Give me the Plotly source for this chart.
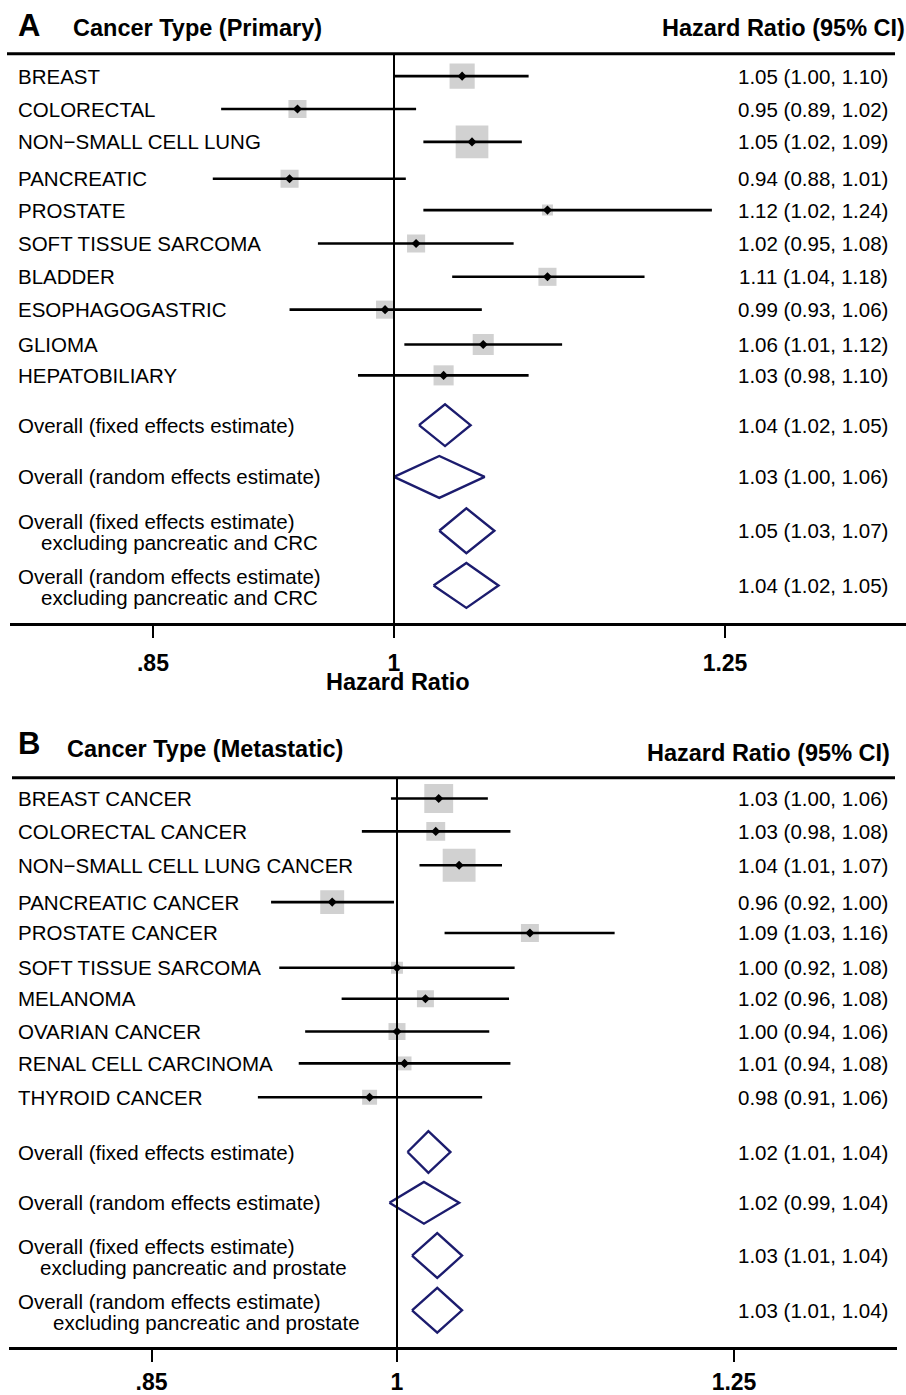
import math
import plotly.graph_objects as go

W, H = 906, 1395
FONT = "Liberation Sans, Arial, Helvetica, sans-serif"

# ---------------- Panel A data (primary) ----------------
cats_a = ["BREAST", "COLORECTAL", "NON\u2212SMALL CELL LUNG", "PANCREATIC", "PROSTATE",
          "SOFT TISSUE SARCOMA", "BLADDER", "ESOPHAGOGASTRIC", "GLIOMA", "HEPATOBILIARY"]
hr_a = [1.047, 0.937, 1.054, 0.932, 1.109, 1.015, 1.109, 0.994, 1.062, 1.034]
lo_a = [1.000, 0.890, 1.020, 0.885, 1.020, 0.950, 1.040, 0.932, 1.007, 0.976]
hi_a = [1.095, 1.015, 1.090, 1.008, 1.239, 1.084, 1.184, 1.061, 1.120, 1.095]
wt_a = [14.7, 7.6, 24.8, 7.6, 2.8, 7.6, 7.6, 7.6, 10.3, 9.4]
ci_text_a = ["1.05 (1.00, 1.10)", "0.95 (0.89, 1.02)", "1.05 (1.02, 1.09)", "0.94 (0.88, 1.01)",
             "1.12 (1.02, 1.24)", "1.02 (0.95, 1.08)", "1.11 (1.04, 1.18)", "0.99 (0.93, 1.06)",
             "1.06 (1.01, 1.12)", "1.03 (0.98, 1.10)"]
pooled_labels_a = [["Overall (fixed effects estimate)"],
                   ["Overall (random effects estimate)"],
                   ["Overall (fixed effects estimate)", "excluding pancreatic and CRC"],
                   ["Overall (random effects estimate)", "excluding pancreatic and CRC"]]
pooled_hr_a = [1.035, 1.031, 1.050, 1.050]
pooled_lo_a = [1.017, 1.000, 1.031, 1.027]
pooled_hi_a = [1.053, 1.063, 1.070, 1.073]
pooled_text_a = ["1.04 (1.02, 1.05)", "1.03 (1.00, 1.06)", "1.05 (1.03, 1.07)", "1.04 (1.02, 1.05)"]

# ---------------- Panel B data (metastatic) ----------------
cats_b = ["BREAST CANCER", "COLORECTAL CANCER", "NON\u2212SMALL CELL LUNG CANCER", "PANCREATIC CANCER",
          "PROSTATE CANCER", "SOFT TISSUE SARCOMA", "MELANOMA", "OVARIAN CANCER",
          "RENAL CELL CARCINOMA", "THYROID CANCER"]
hr_b = [1.028, 1.026, 1.042, 0.958, 1.092, 1.000, 1.019, 1.000, 1.005, 0.982]
lo_b = [0.996, 0.977, 1.015, 0.920, 1.032, 0.925, 0.964, 0.941, 0.937, 0.912]
hi_b = [1.062, 1.078, 1.072, 0.998, 1.155, 1.081, 1.077, 1.063, 1.078, 1.058]
wt_b = [19.4, 8.3, 25.1, 13.3, 7.5, 3.3, 6.7, 6.7, 4.5, 5.2]
ci_text_b = ["1.03 (1.00, 1.06)", "1.03 (0.98, 1.08)", "1.04 (1.01, 1.07)", "0.96 (0.92, 1.00)",
             "1.09 (1.03, 1.16)", "1.00 (0.92, 1.08)", "1.02 (0.96, 1.08)", "1.00 (0.94, 1.06)",
             "1.01 (0.94, 1.08)", "0.98 (0.91, 1.06)"]
pooled_labels_b = [["Overall (fixed effects estimate)"],
                   ["Overall (random effects estimate)"],
                   ["Overall (fixed effects estimate)", "excluding pancreatic and prostate"],
                   ["Overall (random effects estimate)", "excluding pancreatic and prostate"]]
pooled_hr_b = [1.021, 1.018, 1.027, 1.027]
pooled_lo_b = [1.007, 0.995, 1.010, 1.010]
pooled_hi_b = [1.036, 1.042, 1.044, 1.044]
pooled_text_b = ["1.02 (1.01, 1.04)", "1.02 (0.99, 1.04)", "1.03 (1.01, 1.04)", "1.03 (1.01, 1.04)"]

tick_vals = [0.85, 1, 1.25]
tick_text = [".85", "1", "1.25"]

# ---------------- layout geometry (pixels) ----------------
panels = [
    dict(key="", letter="A", title="Cancer Type (Primary)",
         cats=cats_a, hr=hr_a, lo=lo_a, hi=hi_a, wt=wt_a, ci=ci_text_a,
         plab=pooled_labels_a, phr=pooled_hr_a, plo=pooled_lo_a, phi=pooled_hi_a, ptxt=pooled_text_a,
         top=54, axis=626, x1px=394, x125px=725, dom=(10, 906), topline=(7, 895),
         rows=[76.5, 109.5, 142.5, 179.5, 211, 244.5, 278, 311, 346, 377],
         prows=[427, 479, 533, 588], indent=[39, 39], standoff=5,
         letter_xy=(16, 26), title_xy=(71, 28), hr_xy=(907, 28), xtitle=True),
    dict(key="2", letter="B", title="Cancer Type (Metastatic)",
         cats=cats_b, hr=hr_b, lo=lo_b, hi=hi_b, wt=wt_b, ci=ci_text_b,
         plab=pooled_labels_b, phr=pooled_hr_b, plo=pooled_lo_b, phi=pooled_hi_b, ptxt=pooled_text_b,
         top=781, axis=1353, x1px=397, x125px=734, dom=(9, 897), topline=(12, 895),
         rows=[802, 835, 869, 906, 937, 972, 1003, 1036, 1068, 1102],
         prows=[1157, 1208, 1261, 1316], indent=[38, 51], standoff=0,
         letter_xy=(16, 747), title_xy=(65, 752), hr_xy=(892, 756), xtitle=False),
]

def px(x):
    return x / W

def py(y):
    return 1 - y / H

fig = go.Figure()
annotations = []
shapes = []
GRAY = "#bdbdbd"
NAVY = "#1c1c6e"

for p in panels:
    k = p["key"]
    xa, ya = "x" + k, "y" + k
    ppl = (p["x125px"] - p["x1px"]) / math.log10(1.25)  # pixels per log10 unit
    r0 = (p["dom"][0] - p["x1px"]) / ppl
    r1 = (p["dom"][1] - p["x1px"]) / ppl
    fig.update_layout(**{
        "xaxis" + k: dict(type="log", range=[r0, r1], domain=[px(p["dom"][0]), px(p["dom"][1])],
                          anchor=ya, showgrid=False, zeroline=False, showline=True,
                          linecolor="black", linewidth=3, ticks="outside", ticklen=12,
                          tickwidth=2, tickcolor="black", tickvals=tick_vals,
                          ticktext=["<b>%s</b>" % t for t in tick_text],
                          tickfont=dict(family=FONT, size=23, color="black"),
                          ticklabelstandoff=p["standoff"]),
        "yaxis" + k: dict(range=[p["axis"], p["top"]], domain=[py(p["axis"]), py(p["top"])],
                          anchor=xa, visible=False, showgrid=False, zeroline=False),
    })
    shapes.append(dict(type="line", xref=xa, yref=ya + " domain", x0=1, x1=1, y0=0, y1=1,
                       line=dict(color="black", width=2)))
    shapes.append(dict(type="line", xref="paper", yref="paper",
                       x0=px(p["topline"][0]), x1=px(p["topline"][1]),
                       y0=py(p["top"]), y1=py(p["top"]), line=dict(color="black", width=3)))

    rows = p["rows"]
    cx, cy = [], []
    for lo, hi, y in zip(p["lo"], p["hi"], rows):
        cx += [lo, hi, None]
        cy += [y, y, None]
    sizes = [math.sqrt(43.0 * w) for w in p["wt"]]
    fig.add_trace(go.Scatter(x=p["hr"], y=rows, mode="markers", xaxis=xa, yaxis=ya,
                             marker=dict(symbol="square", size=sizes, color=GRAY, line=dict(width=0)),
                             hoverinfo="skip", showlegend=False))
    fig.add_trace(go.Scatter(x=cx, y=cy, mode="lines", xaxis=xa, yaxis=ya,
                             line=dict(color="black", width=2.6), hoverinfo="skip", showlegend=False))
    fig.add_trace(go.Scatter(x=p["hr"], y=rows, mode="markers", xaxis=xa, yaxis=ya,
                             marker=dict(symbol="diamond", size=7, color="black"),
                             hoverinfo="skip", showlegend=False))
    for i, (h, lo, hi, y) in enumerate(zip(p["phr"], p["plo"], p["phi"], p["prows"])):
        hh = 21 if i < 2 else 22.5
        fig.add_trace(go.Scatter(x=[lo, h, hi, h, lo], y=[y, y - hh, y, y + hh, y], mode="lines",
                                 xaxis=xa, yaxis=ya, line=dict(color=NAVY, width=2.4),
                                 hoverinfo="skip", showlegend=False))

    tf = dict(family=FONT, size=20.5, color="black")
    for name, txt, y in zip(p["cats"], p["ci"], rows):
        annotations.append(dict(text=name, xref="paper", yref=ya, x=px(16), y=y,
                                xanchor="left", yanchor="middle", showarrow=False, font=tf))
        annotations.append(dict(text=txt, xref="paper", yref=ya, x=px(890), y=y,
                                xanchor="right", yanchor="middle", showarrow=False, font=tf))
    for i, (lab, txt, y) in enumerate(zip(p["plab"], p["ptxt"], p["prows"])):
        if len(lab) == 1:
            annotations.append(dict(text=lab[0], xref="paper", yref=ya, x=px(16), y=y,
                                    xanchor="left", yanchor="middle", showarrow=False, font=tf))
        else:
            annotations.append(dict(text=lab[0], xref="paper", yref=ya, x=px(16), y=y - 9,
                                    xanchor="left", yanchor="middle", showarrow=False, font=tf))
            annotations.append(dict(text=lab[1], xref="paper", yref=ya, x=px(p["indent"][i - 2]),
                                    y=y + 12, xanchor="left", yanchor="middle", showarrow=False, font=tf))
        annotations.append(dict(text=txt, xref="paper", yref=ya, x=px(890), y=y,
                                xanchor="right", yanchor="middle", showarrow=False, font=tf))

    annotations.append(dict(text="<b>%s</b>" % p["letter"], xref="paper", yref="paper",
                            x=px(p["letter_xy"][0]), y=py(p["letter_xy"][1]), xanchor="left",
                            yanchor="middle", showarrow=False,
                            font=dict(family=FONT, size=31, color="black")))
    annotations.append(dict(text="<b>%s</b>" % p["title"], xref="paper", yref="paper",
                            x=px(p["title_xy"][0]), y=py(p["title_xy"][1]), xanchor="left",
                            yanchor="middle", showarrow=False,
                            font=dict(family=FONT, size=23.5, color="black")))
    annotations.append(dict(text="<b>Hazard Ratio (95% CI)</b>", xref="paper", yref="paper",
                            x=px(p["hr_xy"][0]), y=py(p["hr_xy"][1]), xanchor="right",
                            yanchor="middle", showarrow=False,
                            font=dict(family=FONT, size=23.5, color="black")))
    if p["xtitle"]:
        annotations.append(dict(text="<b>Hazard Ratio</b>", xref="paper", yref="paper",
                                x=px(398), y=py(685), xanchor="center", yanchor="middle",
                                showarrow=False, font=dict(family=FONT, size=23.5, color="black")))

fig.update_layout(width=W, height=H, margin=dict(l=0, r=0, t=0, b=0),
                  paper_bgcolor="white", plot_bgcolor="white",
                  annotations=annotations, shapes=shapes, showlegend=False,
                  font=dict(family=FONT))
fig.write_html("out.html", config={"displayModeBar": False},
               post_script="document.body.style.margin='0';document.body.style.overflow='hidden';")
